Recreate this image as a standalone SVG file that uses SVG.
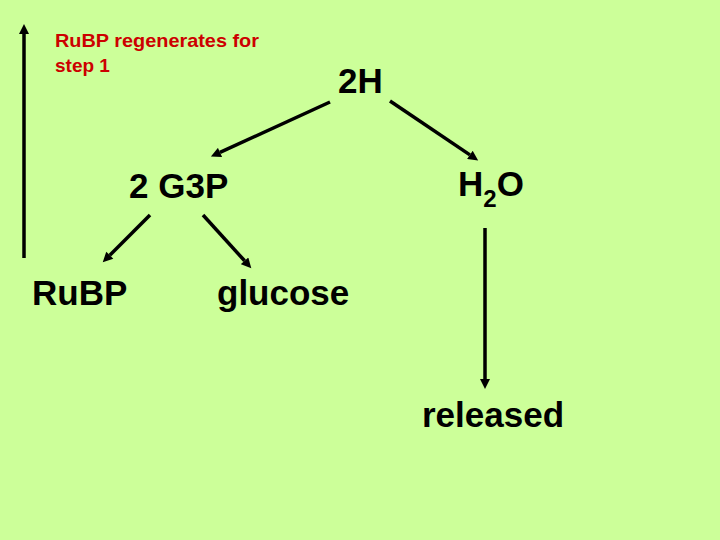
<svg xmlns="http://www.w3.org/2000/svg" width="720" height="540" viewBox="0 0 720 540">
<style>
.t{font-family:"Liberation Sans",Arial,sans-serif;font-weight:bold;font-size:35px;fill:#000}
.r{font-family:"Liberation Sans",Arial,sans-serif;font-weight:bold;font-size:19px;fill:#CC0000}
.c{stroke:#000;stroke-width:3.5;fill:none;marker-end:url(#ah)}
</style>
<defs>
<marker id="ah" viewBox="0 0 10 10" refX="0" refY="5" markerUnits="userSpaceOnUse" markerWidth="11" markerHeight="10" orient="auto">
<path d="M0,0 L10,5 L0,10 z" fill="#000"/>
</marker>
</defs>
<rect width="720" height="540" fill="#CCFF99"/>
<g id="connectors">
<line class="c" x1="24" y1="258" x2="24" y2="34"/>
<line class="c" x1="330" y1="102" x2="220" y2="152.4"/>
<line class="c" x1="390" y1="101" x2="469.9" y2="154.9"/>
<line class="c" x1="150" y1="215" x2="109.8" y2="255.2"/>
<line class="c" x1="203" y1="215" x2="244.6" y2="260.8"/>
<line class="c" x1="485" y1="228" x2="485" y2="379"/>
</g>
<g id="note">
<text class="r" x="55" y="47" textLength="204" lengthAdjust="spacingAndGlyphs">RuBP regenerates for</text>
<text class="r" x="55" y="72">step 1</text>
</g>
<g id="n2H"><text class="t" x="338" y="93">2H</text></g>
<g id="nG3P"><text class="t" x="129" y="198">2 G3P</text></g>
<g id="nH2O"><text class="t" x="458" y="196">H<tspan font-size="24" dy="11">2</tspan><tspan dy="-11">O</tspan></text></g>
<g id="nRuBP"><text class="t" x="32" y="305">RuBP</text></g>
<g id="nglucose"><text class="t" x="217" y="305">glucose</text></g>
<g id="nreleased"><text class="t" x="422" y="427">released</text></g>
</svg>
